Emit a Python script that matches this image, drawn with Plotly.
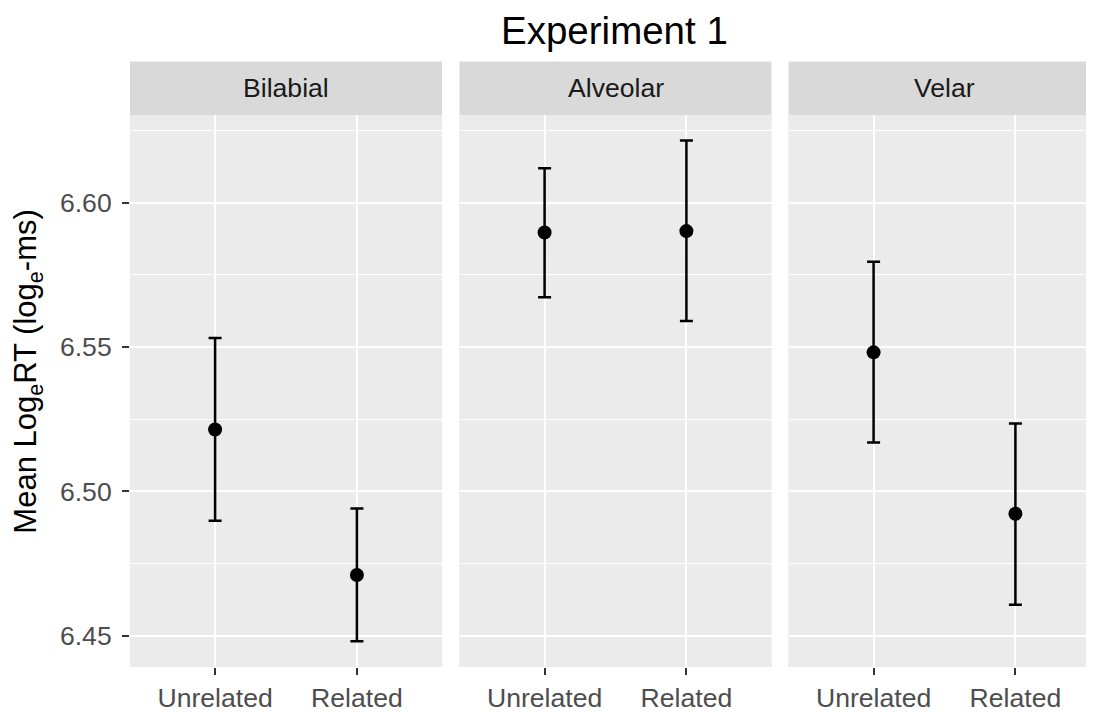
import plotly.graph_objects as go

# ---- data ----
places = ["Bilabial", "Alveolar", "Velar"]
conditions = ["Unrelated", "Related"]
mean_bilabial = [6.5214, 6.4710]
low_bilabial = [6.4898, 6.4480]
high_bilabial = [6.5531, 6.4940]
mean_alveolar = [6.5896, 6.5901]
low_alveolar = [6.5672, 6.5590]
high_alveolar = [6.6119, 6.6215]
mean_velar = [6.5481, 6.4922]
low_velar = [6.5169, 6.4607]
high_velar = [6.5795, 6.5235]
y_ticks = [6.45, 6.50, 6.55, 6.60]
y_tick_labels = ["6.45", "6.50", "6.55", "6.60"]

means = [mean_bilabial, mean_alveolar, mean_velar]
lows = [low_bilabial, low_alveolar, low_velar]
highs = [high_bilabial, high_alveolar, high_velar]

OFF = 8  # page body margin offset
W, H = 1094 - OFF, 713 - OFF
ML, MR, MT, MB = 130 - OFF, 0, 115 - OFF, 713 - 672
PW = W - ML - MR
PH = H - MT - MB
FONT = "Liberation Sans, Arial, Helvetica, sans-serif"

panel_px = [(130, 442), (459.5, 771.5), (788.5, 1094)]
unit_px = 312 / 2.2
domains = [[(a - OFF - ML) / PW, (b - OFF - ML) / PW] for a, b in panel_px]
ranges = [[-0.6, -0.6 + (b - a) / unit_px] for a, b in panel_px]


def px_x(x):
    return (x - OFF - ML) / PW


def px_y(y):
    return (H - MB - (y - OFF)) / PH


fig = go.Figure()
for i, p in enumerate(places):
    m = means[i]
    plus = [h - v for h, v in zip(highs[i], m)]
    minus = [v - l for v, l in zip(m, lows[i])]
    fig.add_trace(go.Scatter(
        x=conditions, y=m, mode="markers",
        marker=dict(color="black", size=14),
        error_y=dict(type="data", symmetric=False, array=plus, arrayminus=minus,
                     color="black", thickness=2.5, width=6.5),
        xaxis="x" if i == 0 else f"x{i+1}", yaxis="y",
        showlegend=False, hoverinfo="skip",
    ))

layout = dict(
    width=W, height=H,
    margin=dict(l=ML, r=MR, t=MT, b=MB, pad=0),
    paper_bgcolor="white", plot_bgcolor="#EBEBEB",
    font=dict(family=FONT),
    showlegend=False,
)

ymin = 6.45 - (671.7 - 640) / 2912
ymax = 6.60 + (203.3 - 115) / 2912
layout["yaxis"] = dict(
    range=[ymin, ymax], tickvals=y_ticks, ticktext=y_tick_labels,
    showgrid=True, gridcolor="white", gridwidth=2.2,
    minor=dict(dtick=0.025, tick0=6.45, showgrid=True, gridcolor="white", gridwidth=1.1, ticks=""),
    ticks="outside", ticklen=7, tickwidth=2, tickcolor="#333333",
    ticklabelstandoff=5,
    tickfont=dict(size=26.6, color="#4D4D4D", family=FONT),
    zeroline=False, showline=False, anchor="x", domain=[0, 1],
)
for i in range(3):
    key = "xaxis" if i == 0 else f"xaxis{i+1}"
    layout[key] = dict(
        domain=domains[i], range=ranges[i], type="category",
        categoryorder="array", categoryarray=conditions,
        showgrid=True, gridcolor="white", gridwidth=2.2,
        ticks="outside", ticklen=7, tickwidth=2, tickcolor="#333333",
        tickfont=dict(size=26.6, color="#4D4D4D", family=FONT),
        zeroline=False, showline=False, anchor="y",
    )
fig.update_layout(**layout)

shapes = []
strip_top = px_y(61)
for i in range(3):
    d = domains[i]
    if i > 0:
        shapes.append(dict(type="rect", xref="paper", yref="paper", x0=d[0], x1=d[1],
                           y0=0, y1=1, fillcolor="#EBEBEB", line=dict(width=0), layer="below"))
    shapes.append(dict(type="rect", xref="paper", yref="paper", x0=d[0], x1=d[1],
                       y0=1, y1=strip_top, fillcolor="#D9D9D9", line=dict(width=0)))
fig.update_layout(shapes=shapes)

annotations = []
for i, p in enumerate(places):
    a, b = panel_px[i]
    cx = (a + a + 312) / 2
    annotations.append(dict(text=p, xref="paper", yref="paper",
                            x=px_x(cx), y=px_y(88),
                            xanchor="center", yanchor="middle", showarrow=False,
                            font=dict(size=26.6, color="#1A1A1A", family=FONT)))
annotations.append(dict(text="Mean Log<sub>e</sub>RT (log<sub>e</sub>-ms)", xref="paper", yref="paper",
                        x=px_x(28), y=px_y(374), textangle=-90,
                        xanchor="center", yanchor="middle", showarrow=False,
                        font=dict(size=31, color="black", family=FONT)))
annotations.append(dict(text="Experiment 1", xref="paper", yref="paper",
                        x=px_x(614), y=px_y(30), borderpad=0,
                        xanchor="center", yanchor="middle", showarrow=False,
                        font=dict(size=38.5, color="black", family=FONT)))
fig.update_layout(annotations=annotations)

fig.write_html("out.html")
